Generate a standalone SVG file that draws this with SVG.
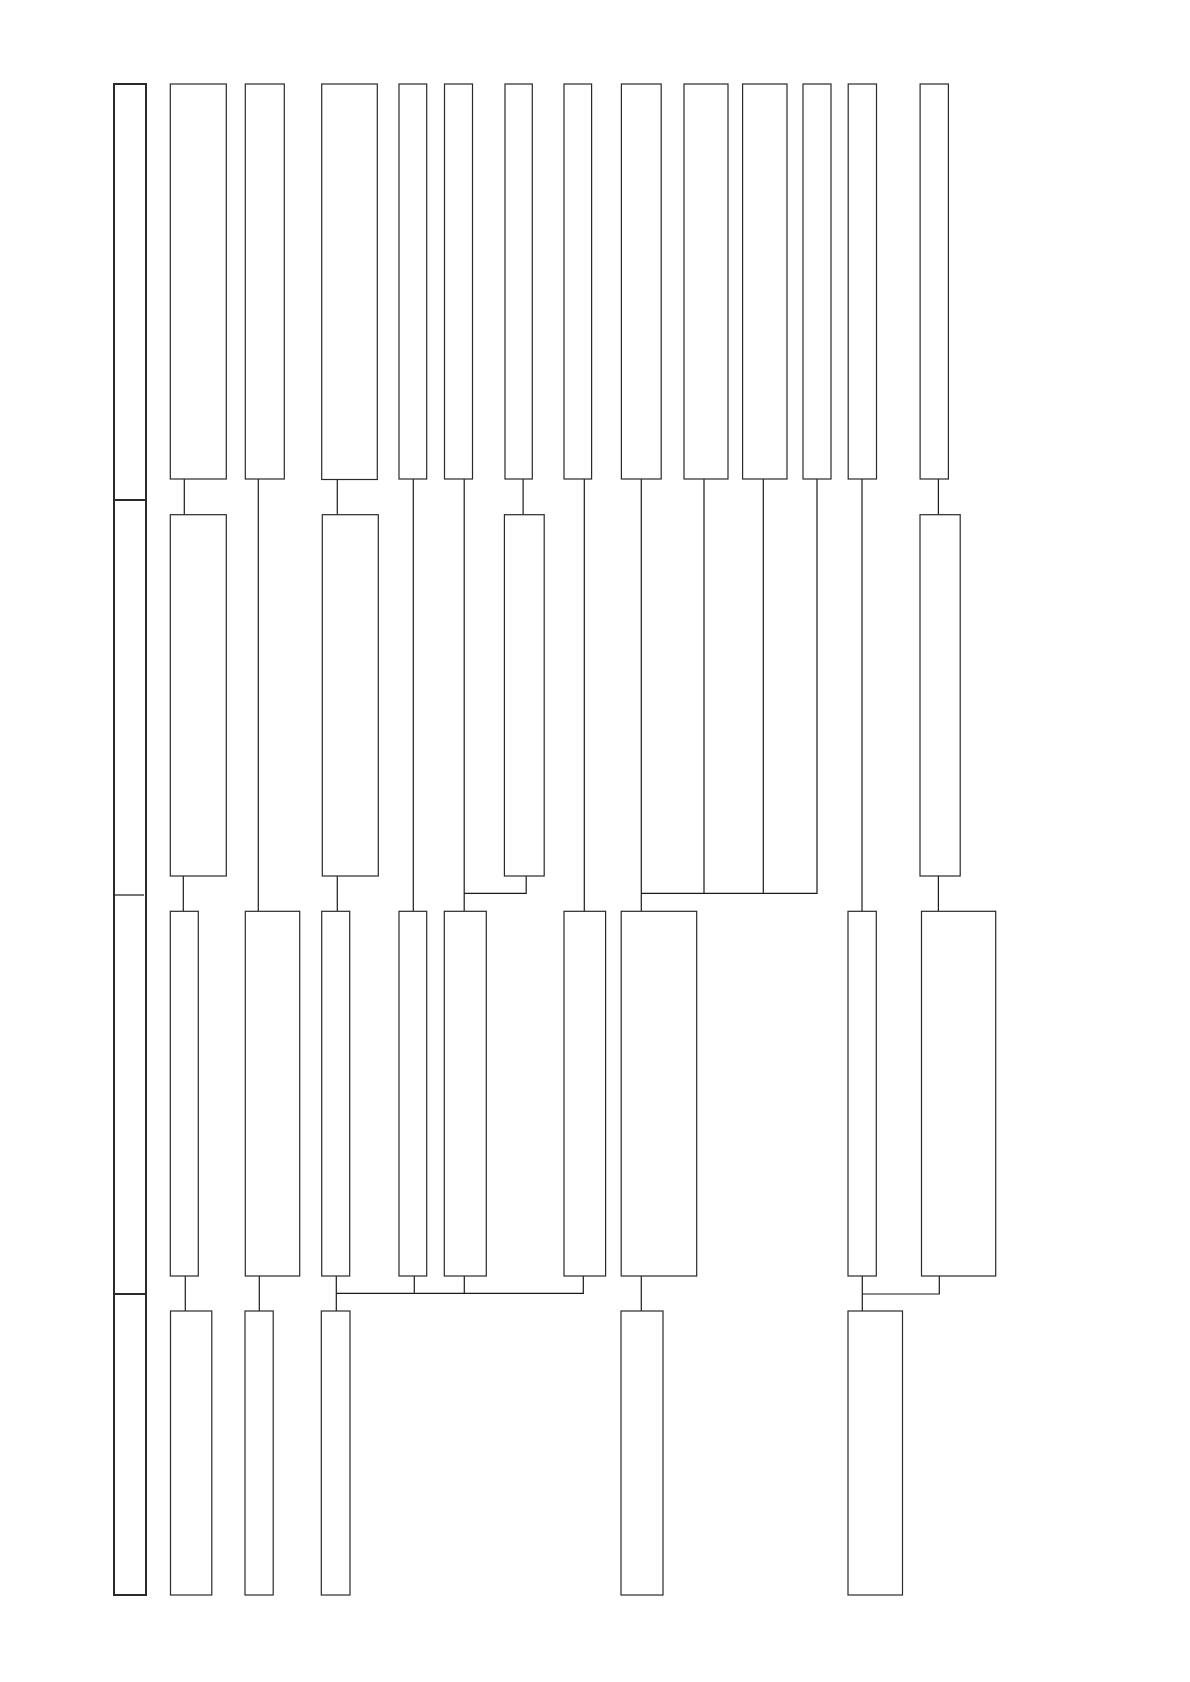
<svg xmlns="http://www.w3.org/2000/svg" width="1190" height="1682" viewBox="0 0 1190 1682">
<style>
.n{fill:#fff;stroke:#2a2a2a;stroke-width:1.2}
.f{fill:none;stroke:#2a2a2a;stroke-width:2}
.c{fill:none;stroke:#1a1a1a;stroke-width:1.2}
</style>
<rect width="1190" height="1682" fill="#fff"/>
<g id="frame">
<rect class="f" x="114" y="84" width="32" height="1511"/>
<line class="f" x1="114" y1="500" x2="146" y2="500"/>
<line class="c" x1="114" y1="895" x2="144" y2="895"/>
<line class="f" x1="114" y1="1294" x2="146" y2="1294" stroke-width="1.6"/>
</g>
<g id="connectors">
<path class="c" d="M184.3 479V514.7"/>
<path class="c" d="M258.3 479V911.3"/>
<path class="c" d="M337.3 479V514.7"/>
<path class="c" d="M413.3 479V911.3"/>
<path class="c" d="M464.2 479V911.3"/>
<path class="c" d="M523.1 479V514.7"/>
<path class="c" d="M526.2 876V893.3H464.2"/>
<path class="c" d="M584.3 479V911.3"/>
<path class="c" d="M641.3 479V911.3"/>
<path class="c" d="M704 479V893.3"/>
<path class="c" d="M763.3 479V893.3"/>
<path class="c" d="M817 479V893.3H641.3"/>
<path class="c" d="M862 479V911.3"/>
<path class="c" d="M938.4 479V514.7"/>
<path class="c" d="M183.3 876V911.3"/>
<path class="c" d="M337.3 876V911.3"/>
<path class="c" d="M938.4 876V911.3"/>
<path class="c" d="M185.3 1276V1311"/>
<path class="c" d="M259.3 1276V1311"/>
<path class="c" d="M336.3 1276V1311"/>
<path class="c" d="M336.3 1293.3H583.3V1276"/>
<path class="c" d="M414.3 1276V1293.3"/>
<path class="c" d="M464.3 1276V1293.3"/>
<path class="c" d="M641.3 1276V1311"/>
<path class="c" d="M862.3 1276V1311"/>
<path class="c" d="M862.3 1294H939.3V1276"/>
</g>
<g id="r1n1"><rect class="n" x="170.3" y="84" width="56" height="395"/></g>
<g id="r1n2"><rect class="n" x="245.3" y="84" width="39" height="395"/></g>
<g id="r1n3"><rect class="n" x="321.7" y="84" width="55.6" height="395.5"/></g>
<g id="r1n4"><rect class="n" x="399" y="84" width="27.7" height="395"/></g>
<g id="r1n5"><rect class="n" x="444.5" y="84" width="28" height="395"/></g>
<g id="r1n6"><rect class="n" x="505" y="84" width="27.3" height="395"/></g>
<g id="r1n7"><rect class="n" x="564" y="84" width="27.6" height="395"/></g>
<g id="r1n8"><rect class="n" x="621.4" y="84" width="39.8" height="395"/></g>
<g id="r1n9"><rect class="n" x="684" y="84" width="44" height="395"/></g>
<g id="r1n10"><rect class="n" x="742.6" y="84" width="44.4" height="395"/></g>
<g id="r1n11"><rect class="n" x="803" y="84" width="28" height="395"/></g>
<g id="r1n12"><rect class="n" x="848.2" y="84" width="28.3" height="395"/></g>
<g id="r1n13"><rect class="n" x="920.1" y="84" width="28.3" height="395"/></g>
<g id="r2n1"><rect class="n" x="170.3" y="514.7" width="56" height="361.3"/></g>
<g id="r2n3"><rect class="n" x="322.3" y="514.7" width="56" height="361.3"/></g>
<g id="r2n6"><rect class="n" x="504.4" y="514.7" width="39.8" height="361.3"/></g>
<g id="r2n13"><rect class="n" x="920" y="514.7" width="40.2" height="361.3"/></g>
<g id="r3n1"><rect class="n" x="170.3" y="911.3" width="28" height="364.7"/></g>
<g id="r3n2"><rect class="n" x="245.3" y="911.3" width="54.4" height="364.7"/></g>
<g id="r3n3"><rect class="n" x="321.7" y="911.3" width="28" height="364.7"/></g>
<g id="r3n4"><rect class="n" x="399" y="911.3" width="27.7" height="364.7"/></g>
<g id="r3n5"><rect class="n" x="444.3" y="911.3" width="42" height="364.7"/></g>
<g id="r3n7"><rect class="n" x="564" y="911.3" width="41.6" height="364.7"/></g>
<g id="r3n8"><rect class="n" x="621.2" y="911.3" width="75.5" height="364.7"/></g>
<g id="r3n12"><rect class="n" x="848" y="911.3" width="28.3" height="364.7"/></g>
<g id="r3n13"><rect class="n" x="921.5" y="911.3" width="74.2" height="364.7"/></g>
<g id="r4n1"><rect class="n" x="170.5" y="1311" width="41.3" height="284"/></g>
<g id="r4n2"><rect class="n" x="245" y="1311" width="28.2" height="284"/></g>
<g id="r4n3"><rect class="n" x="321.3" y="1311" width="28.7" height="284"/></g>
<g id="r4n8"><rect class="n" x="621" y="1311" width="42" height="284"/></g>
<g id="r4n12"><rect class="n" x="848" y="1311" width="54.5" height="284"/></g>
</svg>
